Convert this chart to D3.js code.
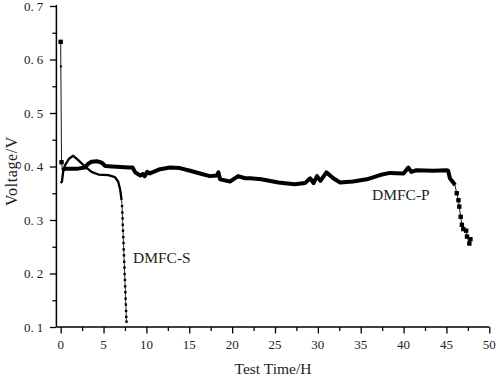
<!DOCTYPE html>
<html><head><meta charset="utf-8">
<script src="https://cdn.jsdelivr.net/npm/d3@7"></script>
<style>body{margin:0;background:#fff}svg{display:block}</style>
</head><body><svg id="c" width="502" height="380"></svg>
<script>
// ---- data ----
const xTicks = [0,5,10,15,20,25,30,35,40,45,50];
const yTicks = [0.1,0.2,0.3,0.4,0.5,0.6,0.7];
const seriesNames = ["DMFC-P","DMFC-S"];
const pTime = [0,0.02,0.1,0.2,0.5,1.0,2.0,2.8,3.2,3.6,4.2,4.8,5.2,6,7,8,8.4,8.7,9.0,9.3,9.6,9.8,10.1,10.4,11.6,12.75,13.9,15.1,16.25,17.4,18.2,18.4,18.6,19.75,20.7,21.5,22.1,23.4,25.4,27.3,28.5,29.1,29.5,29.9,30.3,31.0,31.8,32.6,34.1,35.7,37.25,38.4,40.0,40.55,40.9,41.5,43.5,45.0,45.2,45.4,45.7,46.0,46.2,46.4,46.5,46.66,46.8,46.97,47.3,47.4,47.67,47.8];
const pVolt = [0.633,0.587,0.408,0.393,0.396,0.396,0.396,0.398,0.405,0.409,0.410,0.407,0.401,0.400,0.399,0.398,0.398,0.389,0.386,0.383,0.386,0.382,0.390,0.387,0.395,0.398,0.397,0.392,0.387,0.382,0.383,0.389,0.376,0.372,0.382,0.378,0.378,0.376,0.370,0.367,0.369,0.378,0.369,0.382,0.373,0.389,0.378,0.370,0.372,0.376,0.384,0.388,0.387,0.398,0.390,0.393,0.392,0.393,0.392,0.378,0.372,0.365,0.350,0.337,0.325,0.306,0.291,0.283,0.280,0.269,0.256,0.264];
const sTime = [0.0,0.15,0.3,0.5,1.0,1.47,2.05,2.83,3.6,4.4,5.55,6.33,6.7,6.95,7.1,7.16,7.19,7.22,7.24,7.27,7.30,7.33,7.35,7.38,7.41,7.44,7.46,7.49,7.52,7.55,7.57,7.60,7.63,7.65,7.68];
const sVolt = [0.369,0.372,0.392,0.402,0.415,0.420,0.412,0.400,0.390,0.385,0.384,0.380,0.372,0.356,0.337,0.326,0.314,0.303,0.291,0.280,0.268,0.257,0.245,0.234,0.222,0.211,0.199,0.188,0.176,0.165,0.153,0.142,0.130,0.119,0.110];

// ---- layout ----
const svg = d3.select("#c");
const x = d3.scaleLinear().domain([-0.5,50]).range([56.4,489.3]);
const y = d3.scaleLinear().domain([0.1,0.7]).range([327,6]);
const font = "'Liberation Serif','Times New Roman',serif";

const P = pTime.map((t,i)=>({t, v:pVolt[i], i}));
const S = sTime.map((t,i)=>({t, v:sVolt[i], i}));
const line = d3.line().x(d=>x(d.t)).y(d=>y(d.v));

// axes
const xMinor = d3.range(2.5,50,5);
const yMinor = d3.range(0.15,0.7,0.1);
const gx = svg.append("g").attr("transform","translate(0,327)");
gx.call(d3.axisBottom(x).tickValues(xTicks).tickSize(6.5).tickFormat(""));
gx.append("g").call(d3.axisBottom(x).tickValues(xMinor).tickSize(4).tickFormat("")).select(".domain").remove();
gx.selectAll("path.domain").attr("stroke","#000").attr("stroke-width",1.5).attr("d","M56.4,0H489.3");
gx.selectAll("line").attr("stroke","#000").attr("stroke-width",1.3);
gx.selectAll("text.xl").data(xTicks).enter().append("text").attr("class","xl")
  .attr("x",d=>x(d)).attr("y",22).attr("text-anchor","middle")
  .attr("font-family",font).attr("font-size",13).attr("fill","#222").text(d=>d);

const gy = svg.append("g").attr("transform","translate(56.4,0)");
gy.call(d3.axisLeft(y).tickValues(yTicks).tickSize(6.5).tickFormat(""));
gy.append("g").call(d3.axisLeft(y).tickValues(yMinor).tickSize(4).tickFormat("")).select(".domain").remove();
gy.selectAll("path.domain").attr("stroke","#000").attr("stroke-width",1.5).attr("d","M0,327V5");
gy.selectAll("line").attr("stroke","#000").attr("stroke-width",1.3);
yTicks.forEach(v=>{
  const s = d3.format(".1f")(v);
  const t = svg.append("text").attr("x",24).attr("y",y(v)+4.5)
    .attr("font-family",font).attr("font-size",13).attr("fill","#222");
  t.append("tspan").text(s.slice(0,2));
  t.append("tspan").attr("dx",3).text(s.slice(2));
});

// axis titles
svg.append("text").attr("x",273).attr("y",374).attr("text-anchor","middle")
  .attr("font-family",font).attr("font-size",15.5).attr("fill","#222").text("Test Time/H");
svg.append("text").attr("transform","translate(17,171) rotate(-90)").attr("text-anchor","middle")
  .attr("font-family",font).attr("font-size",16).attr("letter-spacing",0.6).attr("fill","#222").text("Voltage/V");

// DMFC-S
svg.append("path").attr("d",line(S)).attr("fill","none").attr("stroke","#000").attr("stroke-width",0.8);
svg.append("path").attr("d",line(S.filter(d=>d.v>=0.335))).attr("fill","none").attr("stroke","#000")
  .attr("stroke-width",2.3).attr("stroke-linejoin","round");
svg.selectAll("rect.s").data(S.filter(d=>d.v<0.335)).enter().append("rect").attr("class","s")
  .attr("x",d=>x(d.t)-1.2).attr("y",d=>y(d.v)-1.2).attr("width",2.4).attr("height",2.4).attr("fill","#000");

// DMFC-P
svg.append("path").attr("d",line(P)).attr("fill","none").attr("stroke","#000").attr("stroke-width",0.9);
svg.append("path").attr("d",line(P.filter(d=>d.i>=3 && d.t<=46.0))).attr("fill","none").attr("stroke","#000")
  .attr("stroke-width",4).attr("stroke-linejoin","round");
svg.selectAll("rect.p").data(P.filter(d=>d.i<3 || d.t>46.0)).enter().append("rect").attr("class","p")
  .attr("x",d=>x(d.t)-(d.i===1?1:2.2)).attr("y",d=>y(d.v)-(d.i===1?1:2.2))
  .attr("width",d=>d.i===1?2:4.4).attr("height",d=>d.i===1?2:4.4).attr("fill","#000");

// series labels
svg.append("text").attr("x",133).attr("y",263).attr("font-family",font).attr("font-size",15.5).attr("fill","#222").text(seriesNames[1]);
svg.append("text").attr("x",372).attr("y",200).attr("font-family",font).attr("font-size",15.5).attr("fill","#222").text(seriesNames[0]);
</script></body></html>
